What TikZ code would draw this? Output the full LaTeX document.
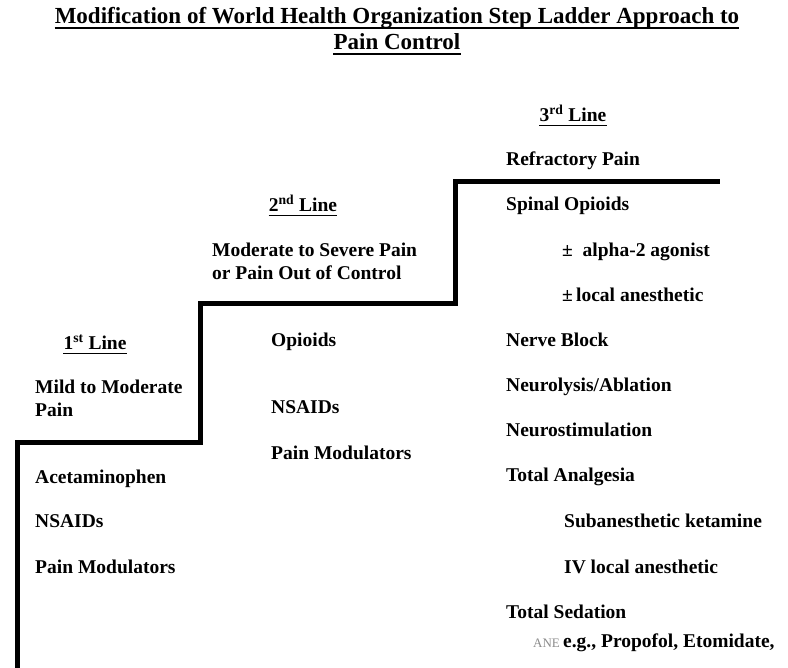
\documentclass[tikz,border=0pt]{standalone}
\usepackage{fontspec}
\setmainfont{Liberation Serif}
\begin{document}
\begin{tikzpicture}[x=1pt,y=-1pt,
  txt/.style={inner sep=0pt,anchor=base west,font=\fontsize{19.5}{23}\selectfont\bfseries},
  head/.style={inner sep=0pt,anchor=base,font=\fontsize{19.5}{23}\selectfont\bfseries},
  ttl/.style={inner sep=0pt,anchor=base,font=\fontsize{23}{26}\selectfont\bfseries},
  ulthin/.style={line width=1.6pt},
  ulthick/.style={line width=2pt},
  stair/.style={line width=5pt,line join=miter,line cap=rect},
  wm/.style={inner sep=0pt,anchor=base west,text=black!45,font=\fontsize{13}{14}\selectfont}]
\useasboundingbox (0,0) rectangle (788,668);
% title
\node[ttl] (t1) at (397,24) {Modification of World Health Organization Step Ladder Approach to};
\node[ttl] (t2) at (397,50) {Pain Control};
\draw[ulthick] ([yshift=-4pt]t1.base west) -- ([yshift=-4pt]t1.base east);
\draw[ulthick] ([yshift=-4pt]t2.base west) -- ([yshift=-4pt]t2.base east);
% staircase
\draw[stair] (17,672) -- (17,443) -- (200,443) -- (200,304) -- (455,304) -- (455,182) -- (717,182);
% column 1
\node[head] (h1) at (95,350) {1\textsuperscript{st} Line};
\draw[ulthin] ([yshift=-3.5pt]h1.base west) -- ([yshift=-3.5pt]h1.base east);
\node[txt] (c1a) at (35,394) {Mild to Moderate};
\node[txt] (c1b) at (35,417) {Pain};
\node[txt] (c1c) at (35,483) {Acetaminophen};
\node[txt] (c1d) at (35,528) {NSAIDs};
\node[txt] (c1e) at (35,573) {Pain Modulators};
% column 2
\node[head] (h2) at (303,212) {2\textsuperscript{nd} Line};
\draw[ulthin] ([yshift=-3.5pt]h2.base west) -- ([yshift=-3.5pt]h2.base east);
\node[txt] (c2a) at (212,257) {Moderate to Severe Pain};
\node[txt] (c2b) at (212,280) {or Pain Out of Control};
\node[txt] (c2c) at (271,347) {Opioids};
\node[txt] (c2d) at (271,414) {NSAIDs};
\node[txt] (c2e) at (271,460) {Pain Modulators};
% column 3
\node[head] (h3) at (573,122) {3\textsuperscript{rd} Line};
\draw[ulthin] ([yshift=-3.5pt]h3.base west) -- ([yshift=-3.5pt]h3.base east);
\node[txt] (c3a) at (506,166) {Refractory Pain};
\node[txt] (c3b) at (506,211) {Spinal Opioids};
\node[txt] (c3c) at (562,257) {±\ \ alpha-2 agonist};
\node[txt] (c3d) at (562,302) {±\,local anesthetic};
\node[txt] (c3e) at (506,347) {Nerve Block};
\node[txt] (c3f) at (506,392) {Neurolysis/Ablation};
\node[txt] (c3g) at (506,437) {Neurostimulation};
\node[txt] (c3h) at (506,482) {Total Analgesia};
\node[txt] (c3i) at (564,528) {Subanesthetic ketamine};
\node[txt] (c3j) at (564,573) {IV local anesthetic};
\node[txt] (c3k) at (506,618) {Total Sedation};
\node[wm] (w) at (533,647) {ANE};
\node[txt] (c3l) at (563,647) {e.g., Propofol, Etomidate,};
\end{tikzpicture}
\end{document}
